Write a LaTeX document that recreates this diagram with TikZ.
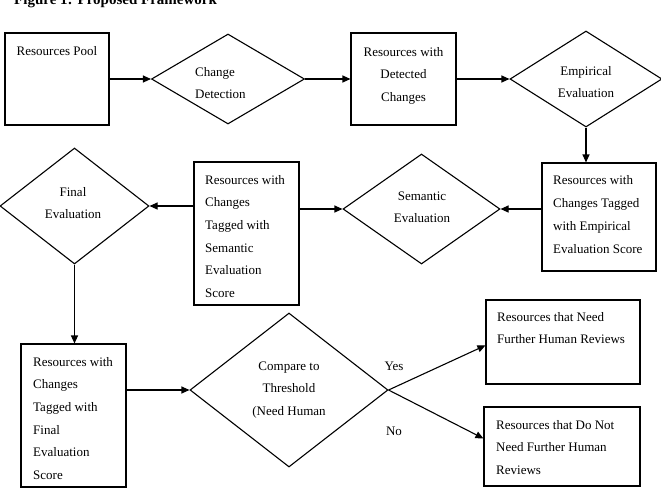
\documentclass[tikz,border=0pt]{standalone}
\usepackage{fontspec}
\setmainfont{Liberation Serif}
\usetikzlibrary{arrows.meta,shapes.geometric,calc}
\newcommand{\Ltab}[1]{\begin{tabular}[t]{@{}l@{}}#1\end{tabular}}
\newcommand{\Ctab}[1]{\begin{tabular}[t]{@{}c@{}}#1\end{tabular}}
\tikzset{
  boxn/.style={draw, rectangle, inner sep=0pt, line width=1.1pt},
  dia/.style={draw, diamond, inner sep=0pt, line width=1.1pt},
  txt/.style={inner sep=0pt, font=\fontsize{13}{22.7}\selectfont},
  arr/.style={line width=1.1pt, -{Triangle[length=8pt,width=7pt]}},
  ln/.style={line width=1.1pt}
}
\begin{document}
\begin{tikzpicture}[x=1pt,y=-1pt]
\useasboundingbox (0,0) rectangle (661,493);
% title
\node[anchor=base west, inner sep=0pt, font=\fontsize{15}{18}\selectfont\bfseries] (title) at (14,4.5) {Figure 1: Proposed Framework};
% row 1
\node[boxn, minimum width=104pt, minimum height=92pt] (pool) at (57,79) {};
\node[txt, anchor=base] (tpool) at (57,55) {Resources Pool};
\node[dia, minimum width=153pt, minimum height=90pt] (cd) at (228,79) {};
\node[txt, anchor=base west] (tcd) at (195,76) {\Ltab{Change\\Detection}};
\node[boxn, minimum width=105pt, minimum height=92pt] (det) at (403.5,79) {};
\node[txt, anchor=base] (tdet) at (403.5,56) {\Ctab{Resources with\\Detected\\Changes}};
\node[dia, minimum width=152pt, minimum height=96pt] (emp) at (586,79) {};
\node[txt, anchor=base] (temp) at (586,75) {\Ctab{Empirical\\Evaluation}};
% row 2
\node[boxn, minimum width=114pt, minimum height=108pt] (empbox) at (599,217) {};
\node[txt, anchor=base west, font=\fontsize{13}{23}\selectfont] (tempbox) at (553,184) {\Ltab{Resources with\\Changes Tagged\\with Empirical\\Evaluation Score}};
\node[dia, minimum width=157pt, minimum height=110pt] (sem) at (421.5,209) {};
\node[txt, anchor=base] (tsem) at (422,200) {\Ctab{Semantic\\Evaluation}};
\node[boxn, minimum width=105pt, minimum height=143pt] (sembox) at (246.5,233.5) {};
\node[txt, anchor=base west] (tsembox) at (205,184) {\Ltab{Resources with\\Changes\\Tagged with\\Semantic\\Evaluation\\Score}};
\node[dia, minimum width=149pt, minimum height=116pt] (fin) at (74.5,206) {};
\node[txt, anchor=base] (tfin) at (73,196) {\Ctab{Final\\Evaluation}};
% row 3
\node[boxn, minimum width=105pt, minimum height=143pt] (finbox) at (73.5,415.5) {};
\node[txt, anchor=base west] (tfinbox) at (33,366) {\Ltab{Resources with\\Changes\\Tagged with\\Final\\Evaluation\\Score}};
\node[dia, minimum width=198pt, minimum height=154pt] (cmp) at (289,390) {};
\node[txt, anchor=base] (tcmp) at (289,370) {\Ctab{Compare to\\Threshold\\(Need Human}};
\node[boxn, minimum width=154pt, minimum height=84pt] (need) at (563,342) {};
\node[txt, anchor=base west] (tneed) at (497,321) {\Ltab{Resources that Need\\Further Human Reviews}};
\node[boxn, minimum width=156pt, minimum height=79pt] (noneed) at (562,446.5) {};
\node[txt, anchor=base west] (tnoneed) at (496,429) {\Ltab{Resources that Do Not\\Need Further Human\\Reviews}};
\node[txt, anchor=base] (yes) at (394,370) {Yes};
\node[txt, anchor=base] (no) at (394,435) {No};
% connectors
\draw[arr] (pool.east) -- (cd.west);
\draw[arr] (cd.east) -- (det.west);
\draw[arr] (det.east) -- (emp.west);
\draw[arr] (emp.south) -- (emp.south |- empbox.north);
\draw[arr] (sem.east -| empbox.west) -- (sem.east);
\draw[arr] (sem.west -| sembox.east) -- (sem.west);
\draw[arr] (fin.east -| sembox.west) -- (fin.east);
\draw[arr] (fin.south) -- (fin.south |- finbox.north);
\draw[arr] (cmp.west -| finbox.east) -- (cmp.west);
\draw[arr] (cmp.east) -- ($(need.north west)!0.54!(need.south west)$);
\draw[arr] (cmp.east) -- ($(noneed.north west)!0.4!(noneed.south west)$);
\end{tikzpicture}
\end{document}
